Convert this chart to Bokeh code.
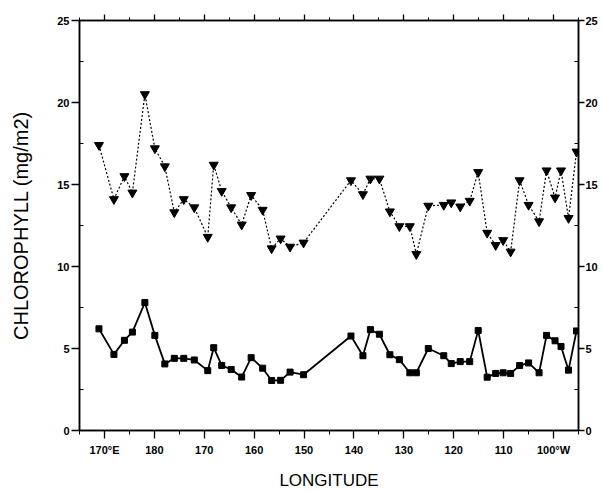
from bokeh.plotting import figure
from bokeh.models import Range1d, LinearAxis, FixedTicker, ColumnDataSource
from bokeh.embed import file_html
from bokeh.resources import INLINE

# Station longitudes as degrees east (180 = dateline, 260 = 100°W)
longitude = [168.9, 171.9, 174.0, 175.6, 178.1, 180.1, 182.1, 184.0, 185.9, 188.0,
             190.7, 191.9, 193.5, 195.4, 197.5, 199.4, 201.7, 203.5, 205.3, 207.2,
             209.9, 219.4, 221.8, 223.3, 225.1, 227.2, 229.1, 231.2, 232.5, 234.9,
             238.0, 239.5, 241.3, 243.2, 244.9, 246.7, 248.4, 249.9, 251.4, 253.2,
             255.0, 257.1, 258.6, 260.3, 261.5, 263.0, 264.6]

upper_series = [17.4, 14.1, 15.5, 14.5, 20.5, 17.2, 16.1, 13.3, 14.1, 13.6,
                11.8, 16.2, 14.6, 13.6, 12.55, 14.35, 13.45, 11.1, 11.7, 11.2,
                11.45, 15.25, 14.4, 15.35, 15.35, 13.35, 12.45, 12.45, 10.75, 13.7,
                13.75, 13.9, 13.65, 14.0, 15.75, 12.05, 11.3, 11.6, 10.9, 15.25,
                13.75, 12.75, 15.85, 14.2, 15.85, 12.95, 17.0]

lower_series = [6.2, 4.64, 5.5, 6.0, 7.8, 5.8, 4.06, 4.4, 4.4, 4.3,
                3.65, 5.05, 3.97, 3.72, 3.26, 4.44, 3.8, 3.05, 3.06, 3.56,
                3.4, 5.76, 4.56, 6.15, 5.87, 4.62, 4.32, 3.52, 3.52, 5.0,
                4.56, 4.08, 4.2, 4.2, 6.1, 3.25, 3.48, 3.52, 3.48, 3.96,
                4.12, 3.52, 5.8, 5.47, 5.12, 3.68, 6.07]

x_tick_values = [170, 180, 190, 200, 210, 220, 230, 240, 250, 260]
x_tick_labels = ["170°E", "180", "170", "160", "150", "140", "130", "120", "110", "100°W"]
x_minor_values = [165, 175, 185, 195, 205, 215, 225, 235, 245, 255, 265]
y_tick_values = [0, 5, 10, 15, 20, 25]
y_minor_values = [2.5, 7.5, 12.5, 17.5, 22.5]

FONT = "Liberation Sans"

src = ColumnDataSource(dict(x=longitude, up=upper_series, lo=lower_series))

p = figure(width=602, height=492, output_backend="svg", toolbar_location=None,
           x_range=Range1d(165, 265), y_range=Range1d(0, 25),
           x_axis_location=None, y_axis_location=None,
           min_border_left=79, min_border_right=24, min_border_top=20, min_border_bottom=55)
p.background_fill_color = "white"
p.border_fill_color = "white"
p.outline_line_color = "black"
p.outline_line_width = 1.5
p.xgrid.visible = False
p.ygrid.visible = False

# lines and markers
p.line("x", "up", source=src, line_color="black", line_width=1.2, line_dash="2 2")
p.scatter("x", "up", source=src, marker="inverted_triangle", size=9,
          fill_color="black", line_color="black")
p.line("x", "lo", source=src, line_color="black", line_width=1.8)
p.scatter("x", "lo", source=src, marker="square", size=6,
          fill_color="black", line_color="black")

xticker = FixedTicker(ticks=x_tick_values, minor_ticks=x_minor_values)
yticker = FixedTicker(ticks=y_tick_values, minor_ticks=y_minor_values)

def style_axis(ax):
    ax.axis_line_color = "black"
    ax.axis_line_width = 1.5
    ax.major_tick_line_color = "black"
    ax.minor_tick_line_color = "black"
    ax.major_tick_line_width = 1.3
    ax.minor_tick_line_width = 1
    ax.major_label_text_font = FONT
    ax.major_label_text_font_style = "bold"
    ax.major_label_text_font_size = "11px"
    ax.major_label_text_color = "black"
    ax.axis_label_text_font = FONT
    ax.axis_label_text_font_style = "normal"
    ax.axis_label_text_color = "black"

bottom = LinearAxis(ticker=xticker, axis_label="LONGITUDE")
bottom.major_label_overrides = {v: t for v, t in zip(x_tick_values, x_tick_labels)}
style_axis(bottom)
bottom.major_tick_out = 8
bottom.major_tick_in = 0
bottom.minor_tick_out = 4
bottom.minor_tick_in = 0
bottom.major_label_standoff = 5
bottom.axis_label_text_font_size = "17px"
bottom.axis_label_standoff = 12
p.add_layout(bottom, "below")

top = LinearAxis(ticker=xticker)
top.major_label_overrides = {v: "" for v in x_tick_values}
style_axis(top)
top.major_tick_out = 6
top.major_tick_in = 0
top.minor_tick_out = 3
top.minor_tick_in = 0
p.add_layout(top, "above")

left = LinearAxis(ticker=yticker, axis_label="CHLOROPHYLL (mg/m2)")
style_axis(left)
left.major_tick_out = 8
left.major_tick_in = 0
left.minor_tick_out = 0
left.minor_tick_in = 4
left.major_label_standoff = 2
left.axis_label_text_font_size = "20px"
left.axis_label_standoff = 22
p.add_layout(left, "left")

right = LinearAxis(ticker=yticker)
style_axis(right)
right.major_tick_out = 6
right.major_tick_in = 0
right.minor_tick_out = 0
right.minor_tick_in = 4
right.major_label_standoff = 1
p.add_layout(right, "right")

open("out.html", "w").write(file_html(p, INLINE))
